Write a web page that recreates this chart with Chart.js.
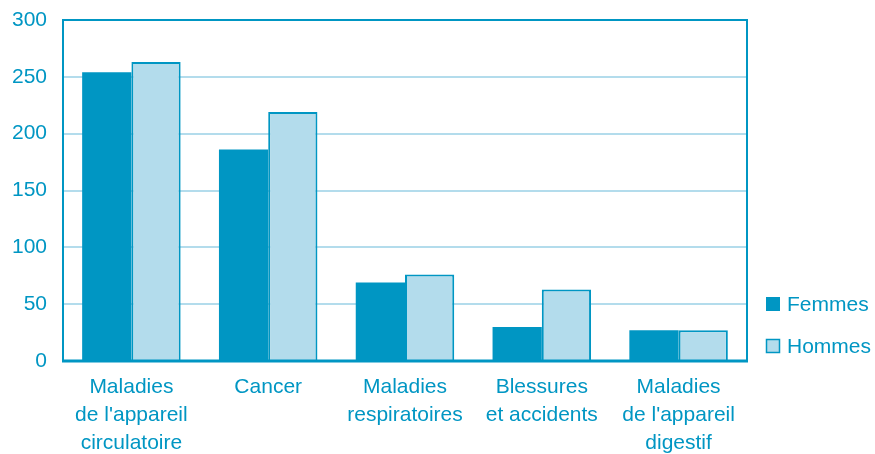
<!DOCTYPE html>
<html lang="fr">
<head>
    <meta charset="UTF-8">
    <title>Causes de décès - Femmes et Hommes</title>
    <script src="https://cdn.jsdelivr.net/npm/chart.js"></script>
    <style>
        html, body { margin: 0; padding: 0; background: #fff; }
        #wrap { width: 875px; height: 454px; }
    </style>
</head>
<body>
    <div id="wrap"><canvas id="chart" width="875" height="454"></canvas></div>
    <script>
        // Data
        const categories = [
            ['Maladies', "de l'appareil", 'circulatoire'],
            ['Cancer'],
            ['Maladies', 'respiratoires'],
            ['Blessures', 'et accidents'],
            ['Maladies', "de l'appareil", 'digestif']
        ];
        const femmes = [254, 186, 69, 30, 27];
        const hommes = [263, 219, 76, 63, 27];
        const yTicks = [0, 50, 100, 150, 200, 250, 300];

        const BLUE = '#0096c3';
        const LIGHT = '#b3dcec';
        const FONT = "'Liberation Sans', Arial, Helvetica, sans-serif";

        // Frame around the plot area + custom legend on the right
        const framePlugin = {
            id: 'frame',
            afterDraw(chart) {
                const { ctx, chartArea: a } = chart;
                ctx.save();
                ctx.strokeStyle = BLUE;
                ctx.lineWidth = 2;
                ctx.strokeRect(a.left, a.top, a.right - a.left, a.bottom - a.top);
                ctx.lineWidth = 3;
                ctx.beginPath();
                ctx.moveTo(a.left - 1, a.bottom);
                ctx.lineTo(a.right + 1, a.bottom);
                ctx.stroke();

                // legend
                const items = chart.data.datasets;
                const ys = [304, 346];
                ctx.font = '21px ' + FONT;
                ctx.textBaseline = 'middle';
                items.forEach((ds, i) => {
                    const y = ys[i];
                    ctx.fillStyle = ds.backgroundColor;
                    ctx.fillRect(766, y - 7, 14, 14);
                    if (ds.borderWidth) {
                        ctx.lineWidth = 1.5;
                        ctx.strokeStyle = ds.borderColor;
                        ctx.strokeRect(766.5, y - 6.5, 13, 13);
                    }
                    ctx.fillStyle = BLUE;
                    ctx.fillText(ds.label, 787, y + 1);
                });
                ctx.restore();
            }
        };

        new Chart(document.getElementById('chart'), {
            type: 'bar',
            data: {
                labels: categories,
                datasets: [
                    {
                        label: 'Femmes',
                        data: femmes,
                        backgroundColor: BLUE,
                        borderWidth: 0
                    },
                    {
                        label: 'Hommes',
                        data: hommes,
                        backgroundColor: LIGHT,
                        borderColor: BLUE,
                        borderWidth: 2
                    }
                ]
            },
            options: {
                responsive: false,
                animation: false,
                devicePixelRatio: 1,
                layout: { padding: { top: 20, right: 128, left: 0, bottom: 0 } },
                plugins: {
                    legend: { display: false },
                    tooltip: { enabled: false }
                },
                datasets: {
                    bar: { categoryPercentage: 0.72, barPercentage: 1 }
                },
                scales: {
                    x: {
                        grid: { display: false },
                        border: { display: false },
                        ticks: {
                            color: BLUE,
                            font: { family: FONT, size: 21, lineHeight: 1.34 },
                            maxRotation: 0,
                            autoSkip: false,
                            padding: 4
                        },
                        afterFit(s) { s.height = 93; }
                    },
                    y: {
                        min: 0,
                        max: 300,
                        afterBuildTicks(s) { s.ticks = yTicks.map(v => ({ value: v })); },
                        grid: {
                            color: ctx => (ctx.tick && (ctx.tick.value === 0 || ctx.tick.value === 300)) ? 'rgba(0,0,0,0)' : LIGHT,
                            lineWidth: 2,
                            drawTicks: true,
                            tickLength: 16,
                            tickColor: 'rgba(0,0,0,0)'
                        },
                        border: { display: false },
                        ticks: {
                            color: BLUE,
                            font: { family: FONT, size: 21 },
                            padding: 0
                        },
                        afterFit(s) { s.width = 63; }
                    }
                }
            },
            plugins: [framePlugin]
        });
    </script>
</body>
</html>
